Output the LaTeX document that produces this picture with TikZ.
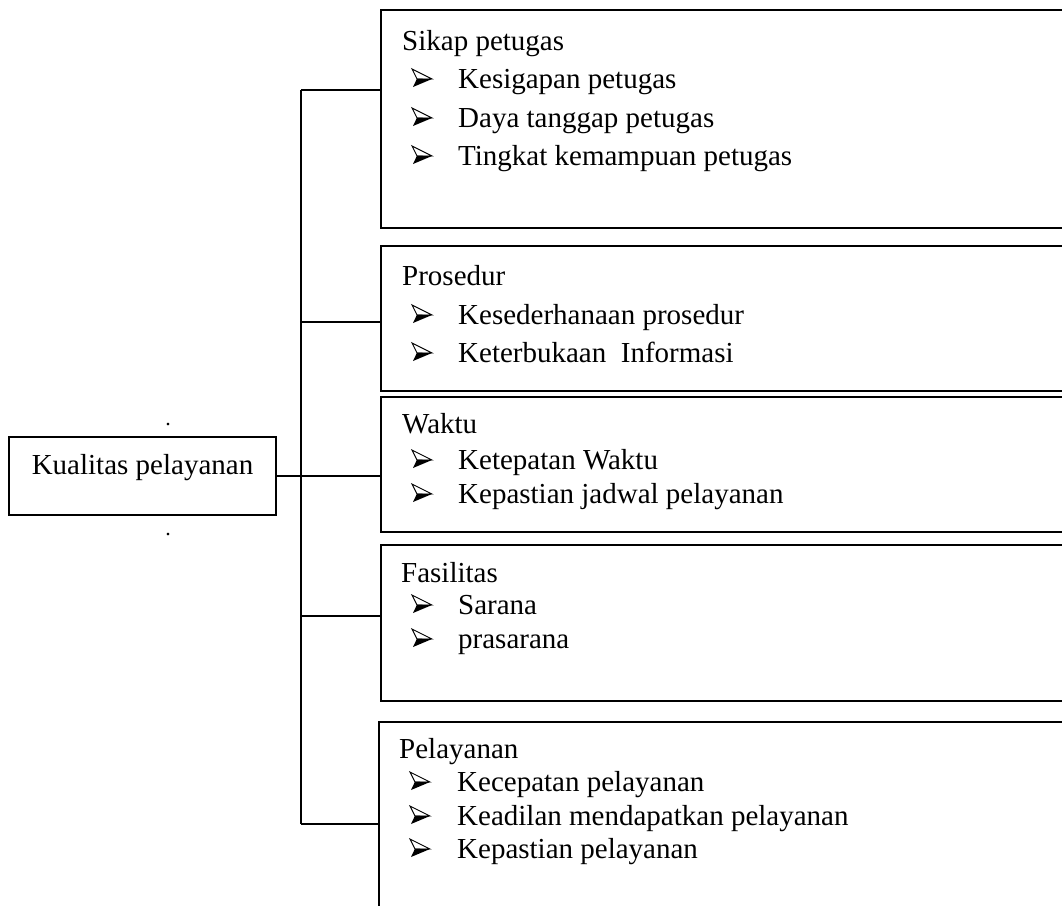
\documentclass[tikz,border=0pt]{standalone}
\usepackage{fontspec}
\setmainfont{Liberation Serif}
\usetikzlibrary{positioning,calc}
\tikzset{
	itembox/.style={draw, line width=1.9pt, anchor=north west, minimum width=720pt, inner sep=0pt},
	mainbox/.style={draw, line width=1.9pt, minimum width=267pt, minimum height=78pt, inner sep=0pt},
	headtext/.style={anchor=base west, inner sep=0pt, font=\fontsize{29}{34}\selectfont},
	itemtext/.style={anchor=base west, inner sep=0pt, font=\fontsize{29}{34}\selectfont},
	link/.style={line width=1.9pt},
	strayDot/.style={anchor=base, inner sep=0pt, font=\fontsize{22}{22}\selectfont},
	arrowbullet/.pic={
		\draw [line width=0.9pt, fill=white, line join=miter] (0,-19) -- (20,-9) -- (5,-9) -- cycle;
		\fill (5,-9.4) -- (20,-9) -- (1,-1) -- cycle;
	}
}

\begin{document}
\begin{tikzpicture}[x=1pt, y=-1pt]
		\useasboundingbox (0,0) rectangle (1062,905);
		
		\node [mainbox] (kualitas) at (142.5, 476) {};
		\node [headtext, anchor=base] (kualitasText) at (142.5, 474) {Kualitas pelayanan};
		\node [strayDot] (dotA) at (168, 425) {.};
		\node [strayDot] (dotB) at (168, 535) {.};
		
		\node [itembox, minimum height=218pt] (sikap) at (380, 9) {};
		\node [itembox, minimum height=145pt] (prosedur) at (380, 245) {};
		\node [itembox, minimum height=135pt] (waktu) at (380, 396) {};
		\node [itembox, minimum height=156pt] (fasilitas) at (380, 544) {};
		\node [itembox, minimum height=200pt] (pelayanan) at (378, 721) {};
		
		\node [headtext] (sikapHead) at (402, 50) {Sikap petugas};
		\node [itemtext] (sikap1) at (458, 88) {Kesigapan petugas};
		\node [itemtext] (sikap2) at (458, 127) {Daya tanggap petugas};
		\node [itemtext] (sikap3) at (458, 165) {Tingkat kemampuan petugas};
		
		\node [headtext] (prosedurHead) at (402, 285) {Prosedur};
		\node [itemtext] (prosedur1) at (458, 324) {Kesederhanaan prosedur};
		\node [itemtext] (prosedur2) at (458, 362) {Keterbukaan\ \ Informasi};
		
		\node [headtext] (waktuHead) at (402, 433) {Waktu};
		\node [itemtext] (waktu1) at (458, 469) {Ketepatan Waktu};
		\node [itemtext] (waktu2) at (458, 503) {Kepastian jadwal pelayanan};
		
		\node [headtext] (fasilitasHead) at (401, 582) {Fasilitas};
		\node [itemtext] (fasilitas1) at (458, 614) {Sarana};
		\node [itemtext] (fasilitas2) at (458, 648) {prasarana};
		
		\node [headtext] (pelayananHead) at (399, 758) {Pelayanan};
		\node [itemtext] (pelayanan1) at (457, 791) {Kecepatan pelayanan};
		\node [itemtext] (pelayanan2) at (457, 825) {Keadilan mendapatkan pelayanan};
		\node [itemtext] (pelayanan3) at (457, 858) {Kepastian pelayanan};
		
		% bullets
		\foreach \y in {88,127,165,324,362,469,503,614,648}
			\pic at (412, \y) {arrowbullet};
		\foreach \y in {791,825,858}
			\pic at (410, \y) {arrowbullet};
		
		\coordinate (j1) at (301, 90);
		\coordinate (j2) at (301, 322);
		\coordinate (j4) at (301, 616);
		\coordinate (j5) at (301, 824);
		
		\draw [link] (j1) to (j5);
		\draw [link] (j1) to (j1 -| sikap.west);
		\draw [link] (j2) to (j2 -| prosedur.west);
		\draw [link] (kualitas.east) to (kualitas.east -| waktu.west);
		\draw [link] (j4) to (j4 -| fasilitas.west);
		\draw [link] (j5) to (j5 -| pelayanan.west);
		
	\end{tikzpicture}
\end{document}
